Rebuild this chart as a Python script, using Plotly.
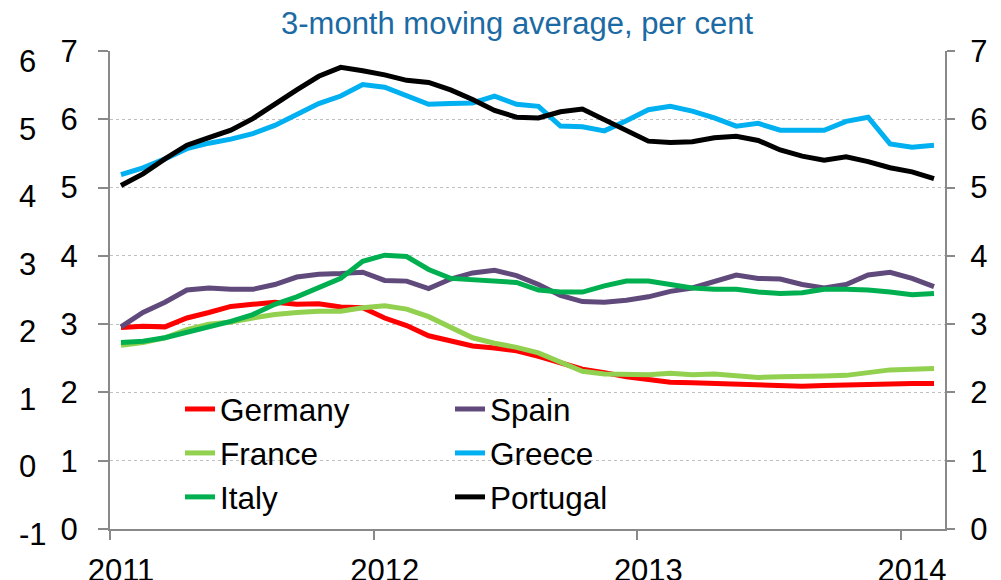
import plotly.graph_objects as go

# monthly observations, Jan 2011 .. Feb 2014 (38 months)
months = list(range(38))
year_ticks = [0, 12, 24, 36]
year_labels = ["2011", "2012", "2013", "2014"]
year_bounds = [-0.5, 11.5, 23.5, 35.5]

# scale of the neighbouring panel that shows at the far left
side_ticks = [-1, 0, 1, 2, 3, 4, 5, 6]
side_labels = ["-1", "0", "1", "2", "3", "4", "5", "6"]

germany = [2.95, 2.97, 2.96, 3.09, 3.17, 3.26, 3.29, 3.32, 3.29, 3.30, 3.25, 3.24,
           3.09, 2.98, 2.83, 2.75, 2.68, 2.65, 2.61, 2.53, 2.44, 2.34, 2.29, 2.23,
           2.19, 2.15, 2.14, 2.13, 2.11, 2.10, 2.09, 2.09, 2.10, 2.11, 2.11, 2.13,
           2.13, 2.13]
spain = [2.96, 3.17, 3.32, 3.50, 3.53, 3.51, 3.51, 3.58, 3.69, 3.73, 3.74, 3.76,
         3.64, 3.63, 3.52, 3.66, 3.75, 3.79, 3.71, 3.58, 3.42, 3.33, 3.32, 3.35,
         3.40, 3.48, 3.53, 3.63, 3.72, 3.67, 3.66, 3.58, 3.53, 3.58, 3.72, 3.76,
         3.67, 3.55]
france = [2.69, 2.73, 2.80, 2.92, 3.00, 3.03, 3.09, 3.14, 3.17, 3.19, 3.19, 3.24,
          3.27, 3.22, 3.11, 2.95, 2.80, 2.72, 2.66, 2.58, 2.44, 2.31, 2.27, 2.27,
          2.26, 2.28, 2.26, 2.27, 2.24, 2.22, 2.23, 2.23, 2.24, 2.25, 2.29, 2.33,
          2.34, 2.35]
greece = [5.19, 5.29, 5.42, 5.57, 5.65, 5.71, 5.79, 5.91, 6.07, 6.23, 6.34, 6.51,
          6.47, 6.35, 6.22, 6.23, 6.24, 6.34, 6.22, 6.19, 5.90, 5.89, 5.83, 5.98,
          6.14, 6.19, 6.12, 6.02, 5.90, 5.94, 5.84, 5.84, 5.84, 5.97, 6.03, 5.64,
          5.59, 5.62]
italy = [2.73, 2.75, 2.80, 2.88, 2.95, 3.04, 3.14, 3.29, 3.40, 3.53, 3.67, 3.92,
         4.01, 3.99, 3.80, 3.67, 3.65, 3.63, 3.61, 3.50, 3.47, 3.47, 3.56, 3.63,
         3.63, 3.58, 3.53, 3.51, 3.51, 3.47, 3.45, 3.46, 3.51, 3.51, 3.50, 3.47,
         3.43, 3.45]
portugal = [5.03, 5.20, 5.42, 5.62, 5.73, 5.84, 6.01, 6.23, 6.43, 6.63, 6.76, 6.71,
            6.65, 6.57, 6.54, 6.43, 6.29, 6.13, 6.03, 6.02, 6.11, 6.15, 5.99, 5.84,
            5.68, 5.66, 5.67, 5.73, 5.75, 5.69, 5.55, 5.46, 5.40, 5.45, 5.38, 5.29,
            5.23, 5.13]

# (name, values, colour, legend column)
series = [
    ("Germany", germany, "#FF0000", "legend"),
    ("Spain", spain, "#604A7B", "legend2"),
    ("France", france, "#92D050", "legend"),
    ("Greece", greece, "#00B0F0", "legend2"),
    ("Italy", italy, "#00B050", "legend"),
    ("Portugal", portugal, "#000000", "legend2"),
]

# the page body has an 8px margin, so the figure is 8px short each way
W, H = 993, 572
FONT = "Liberation Sans, Arial, sans-serif"
AXIS_GREY = "#898989"


def px(x):
    return x / W


def py(y):
    return 1 - y / H


fig = go.Figure()
for name, vals, color, leg in series:
    fig.add_trace(go.Scatter(x=months, y=vals, name=name, mode="lines",
                             legend=leg, line=dict(color=color, width=5)))

# empty traces so the extra scales get drawn
fig.add_trace(go.Scatter(x=[], y=[], yaxis="y2", showlegend=False, hoverinfo="skip"))
fig.add_trace(go.Scatter(x=[], y=[], yaxis="y3", showlegend=False, hoverinfo="skip"))

legend_style = dict(orientation="v", xanchor="left", yanchor="top",
                    font=dict(size=31.5), bgcolor="rgba(0,0,0,0)",
                    traceorder="normal", itemwidth=30)

fig.update_layout(
    width=W, height=H,
    margin=dict(l=0, r=0, t=0, b=0),
    paper_bgcolor="white", plot_bgcolor="rgba(0,0,0,0)",
    font=dict(family=FONT, size=31, color="black"),
    showlegend=True,
    legend=dict(x=px(172), y=py(374), **legend_style),
    legend2=dict(x=px(442), y=py(374), **legend_style),
    xaxis=dict(domain=[px(102), px(937)], range=[-0.5, 37.5],
               tickmode="array", tickvals=year_ticks, ticktext=year_labels,
               ticks="", ticklabelstandoff=13,
               showline=True, linecolor=AXIS_GREY, linewidth=2,
               showgrid=False, zeroline=False, automargin=False,
               minor=dict(tickmode="array", tickvals=year_bounds,
                          ticks="outside", ticklen=9, tickwidth=2,
                          tickcolor=AXIS_GREY, showgrid=False)),
    yaxis=dict(domain=[py(521), py(43)], range=[0, 7], dtick=1,
               ticks="outside", ticklen=10, tickwidth=2, tickcolor=AXIS_GREY,
               ticklabelstandoff=14,
               showline=True, linecolor=AXIS_GREY, linewidth=2,
               showgrid=True, gridcolor="#BFBFBF", griddash="dot", gridwidth=1,
               zeroline=False, automargin=False),
    yaxis2=dict(overlaying="y", side="right", anchor="x", range=[0, 7], dtick=1,
                ticks="outside", ticklen=8, tickwidth=2, tickcolor=AXIS_GREY,
                ticklabelstandoff=9,
                showline=True, linecolor=AXIS_GREY, linewidth=2,
                showgrid=False, zeroline=False, automargin=False),
    yaxis3=dict(domain=[py(540), py(43)], range=[-1.207, 6.156],
                tickmode="array", tickvals=side_ticks, ticktext=side_labels,
                anchor="free", position=0, side="right",
                ticks="", ticklabelstandoff=10,
                showline=False, showgrid=False, zeroline=False, automargin=False),
    annotations=[dict(text="3-month moving average, per cent", xref="paper",
                      yref="paper", x=px(509), y=py(15), showarrow=False,
                      xanchor="center", yanchor="middle",
                      font=dict(size=31, color="#1C6AA4"))],
)

fig.write_html("out.html")
